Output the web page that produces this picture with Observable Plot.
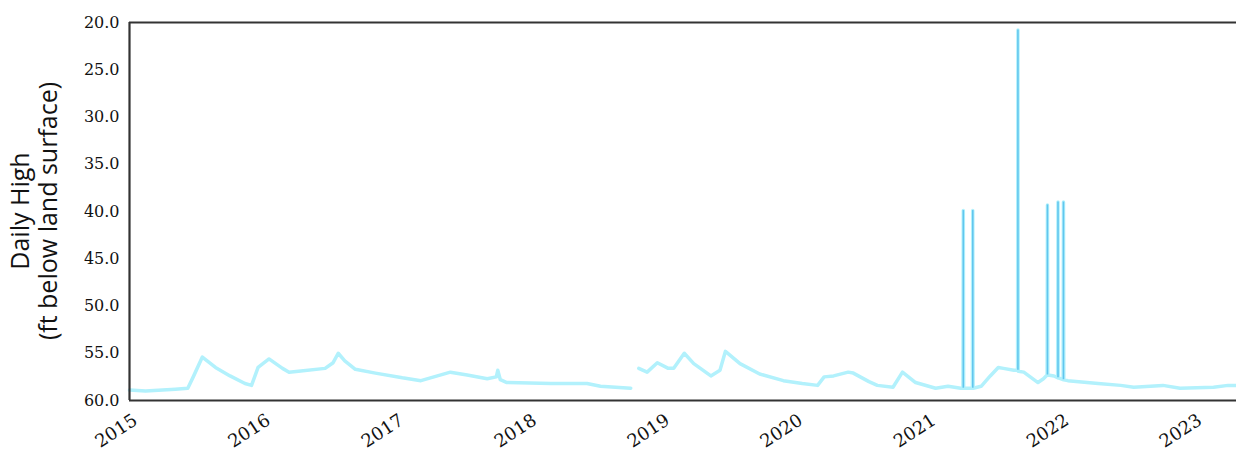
<!DOCTYPE html>
<html>
<head>
<meta charset="utf-8">
<script src="https://cdn.jsdelivr.net/npm/d3@7"></script>
<script src="https://cdn.jsdelivr.net/npm/@observablehq/plot@0.6"></script>
<style>
  html, body { margin: 0; padding: 0; background: #fff; }
  #chart svg { display: block; }
</style>
</head>
<body>
<div id="chart"></div>
<script>
// Daily high water level (ft below land surface)
const dates = [
  "2015-01-01","2015-02-14","2015-05-07","2015-06-10","2015-06-25","2015-07-20","2015-08-25","2015-10-04","2015-11-14","2015-12-02","2015-12-20",
  "2016-01-19","2016-02-25","2016-03-14","2016-04-09","2016-06-21","2016-07-13","2016-07-27","2016-08-14","2016-09-12","2016-11-06",
  "2017-01-19","2017-03-11","2017-05-31","2017-07-16","2017-09-09","2017-10-04","2017-10-08","2017-10-15","2017-11-02",
  "2018-03-03","2018-06-10","2018-07-17","2018-10-08","2018-10-20","2018-10-30","2018-11-22","2018-12-20",
  "2019-01-19","2019-02-03","2019-03-04","2019-03-30","2019-05-16","2019-06-10","2019-06-25","2019-08-04","2019-09-27","2019-12-01",
  "2020-01-22","2020-03-04","2020-03-22","2020-04-17","2020-05-27","2020-06-10","2020-07-23","2020-08-15","2020-09-27","2020-10-23","2020-11-28",
  "2021-01-22","2021-02-25","2021-04-01","2021-04-07","2021-04-08","2021-04-09","2021-05-03","2021-05-04","2021-05-05","2021-05-27","2021-06-21","2021-07-13","2021-07-27","2021-08-25","2021-09-04","2021-09-05","2021-09-06","2021-09-21","2021-10-30","2021-11-14","2021-11-24","2021-11-25","2021-11-26","2021-12-13","2021-12-23","2021-12-24","2021-12-25",
  "2022-01-07","2022-01-08","2022-01-09","2022-01-20","2022-04-13","2022-06-14","2022-07-20","2022-10-08","2022-11-24",
  "2023-02-24","2023-04-05","2023-04-27"
];
const highs = [
  58.9,59.0,58.8,58.7,57.5,55.4,56.5,57.4,58.2,58.4,56.5,
  55.6,56.6,57.0,56.9,56.6,56.0,55.0,55.8,56.7,57.1,
  57.6,57.9,57.0,57.3,57.7,57.5,56.8,57.8,58.1,
  58.2,58.2,58.5,58.7,null,56.6,57.0,56.0,
  56.6,56.6,55.0,56.1,57.4,56.8,54.8,56.1,57.2,57.9,
  58.2,58.4,57.5,57.4,57.0,57.1,58.0,58.4,58.6,57.0,58.1,
  58.7,58.5,58.7,58.7,39.9,58.7,58.7,39.9,58.7,58.5,57.4,56.5,56.6,56.8,56.8,20.8,56.9,57.0,58.1,57.7,57.3,39.3,57.3,57.4,57.6,39.0,57.6,
  57.8,39.0,57.8,57.9,58.2,58.4,58.6,58.4,58.7,
  58.6,58.4,58.4
];
const yTicks = [20, 25, 30, 35, 40, 45, 50, 55, 60];
const xTicks = ["2015","2016","2017","2018","2019","2020","2021","2022","2023"];
const xDomain = ["2015-01-01", "2023-04-28"];
const yTitle = ["Daily High", "(ft below land surface)"];

const parse = d3.utcParse("%Y-%m-%d");
const data = dates.map((d, i) => ({date: parse(d), high: highs[i], prev: i > 0 ? highs[i - 1] : highs[i]}));
const spikes = data.filter(d => d.high != null && d.high < 50);

const plot = Plot.plot({
  width: 1236,
  height: 451,
  marginLeft: 129,
  marginRight: 0,
  marginTop: 22,
  marginBottom: 51,
  style: {fontFamily: "'DejaVu Serif', serif", fontSize: "16px", color: "#111", background: "#fff"},
  x: {
    type: "utc",
    domain: xDomain.map(parse),
    ticks: xTicks.map(y => parse(y + "-01-01")),
    tickFormat: d3.utcFormat("%Y"),
    tickRotate: -33,
    tickSize: 0,
    tickPadding: 14,
    label: null
  },
  y: {
    domain: [20, 60],
    reverse: true,
    ticks: yTicks,
    tickFormat: d3.format(".1f"),
    tickSize: 0,
    tickPadding: 10,
    label: null
  },
  marks: [
    Plot.line(data, {x: "date", y: "high", stroke: "#b2f1fc", strokeWidth: 3.5, strokeLinejoin: "round"}),
    Plot.ruleX(spikes, {x: "date", y1: "prev", y2: "high", stroke: "#62c6ee", strokeWidth: 1.6}),
    Plot.ruleY([20, 60], {stroke: "#333", strokeWidth: 2.2}),
    Plot.ruleX([parse(xDomain[0])], {stroke: "#333", strokeWidth: 2.2})
  ]
});

const svg = d3.select(plot);
// nudge the rotated year labels to sit like the reference
svg.selectAll("g[aria-label='x-axis tick label']").each(function() {
  const g = d3.select(this);
  const t = g.attr("transform") || "";
  g.attr("transform", t + " translate(6,4)").attr("font-size", 18);
});
const title = svg.append("text")
  .attr("transform", "translate(29,211) rotate(-90)")
  .attr("text-anchor", "middle")
  .attr("font-family", "'Open Sans', sans-serif")
  .attr("font-size", 25)
  .attr("fill", "#111");
title.append("tspan").attr("x", 0).attr("dy", "0").text(yTitle[0]);
title.append("tspan").attr("x", 0).attr("dy", "1.12em").text(yTitle[1]);

document.getElementById("chart").appendChild(plot);
</script>
</body>
</html>
